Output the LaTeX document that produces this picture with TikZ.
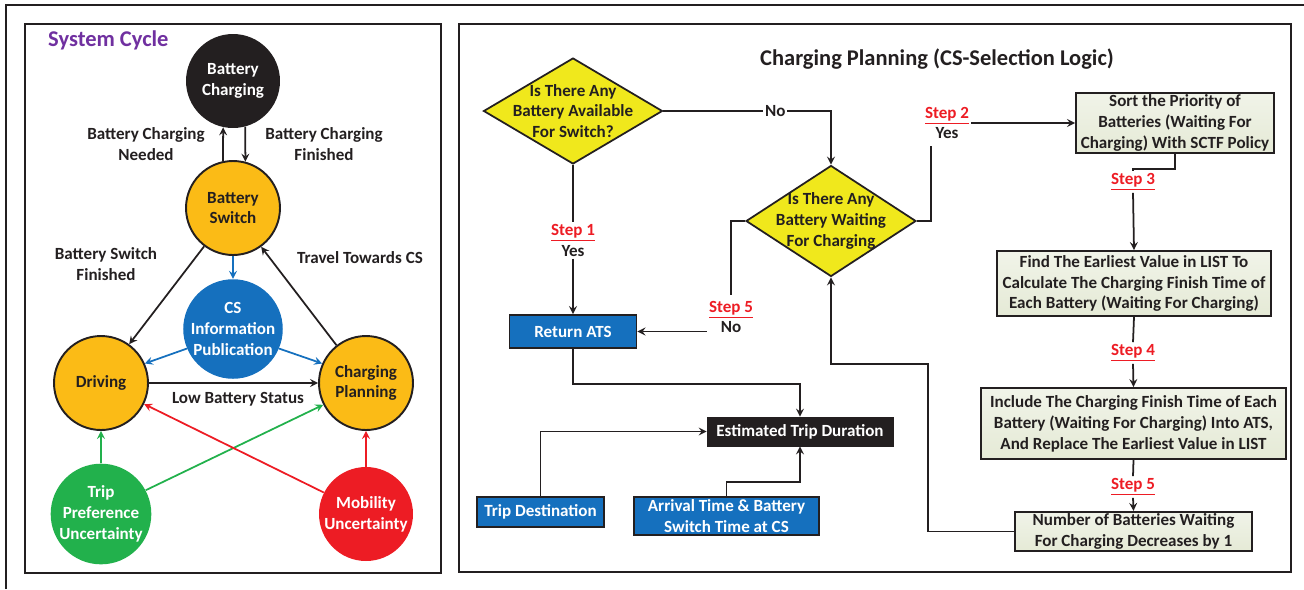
\documentclass[tikz,border=0pt]{standalone}
\usepackage{fontspec}
\setmainfont{Carlito}
\usepackage{tikz}
\usetikzlibrary{calc,shapes.geometric}
\definecolor{amber}{RGB}{251,187,22}
\definecolor{csblue}{RGB}{21,112,190}
\definecolor{ugreen}{RGB}{34,177,76}
\definecolor{ured}{RGB}{237,28,36}
\definecolor{qyellow}{RGB}{240,232,28}
\definecolor{boxgreen}{RGB}{229,234,214}
\definecolor{txt}{RGB}{35,31,32}
\definecolor{steptxt}{RGB}{237,28,36}
\definecolor{titlepurple}{RGB}{112,48,160}

\tikzset{
  state/.style={circle, minimum size=1.88cm, inner sep=0pt, align=center},
  ystate/.style={state, draw=txt, line width=1.1pt, fill=amber},
  query/.style={diamond, draw=txt, line width=1pt, fill=qyellow, inner sep=0pt},
  bluebox/.style={rectangle, draw=txt, line width=1.1pt, fill=csblue, text=white, align=center, inner sep=1pt},
  greybox/.style={rectangle, draw=txt, line width=1.1pt, top color=boxgreen!55!white, bottom color=boxgreen, align=center, inner sep=1pt},
  steplbl/.style={align=center, inner sep=1pt},
  flow/.style={draw=txt, line width=1pt},
  bigtitle/.style={font=\bfseries\fontsize{12.8}{15}\selectfont}
}
\newcommand{\stepno}[1]{{\color{steptxt}\underline{Step #1}}}

\begin{document}
\begin{tikzpicture}[>=stealth, x=0.02cm, y=-0.02cm,
  every node/.style={font=\bfseries\fontsize{9.7}{11.9}\selectfont, text=txt}]

\useasboundingbox (0,0) rectangle (1304,589);

%the frames
\draw[txt, line width=1.3pt] (6,589) -- (6,5) -- (1304,5);
\draw[txt, line width=1.2pt] (25,24) rectangle (441,573);
\draw[txt, line width=1.2pt] (459,24) rectangle (1291,572);

%the system cycle
\node[bigtitle, text=titlepurple, anchor=west] (sys) at (42,40) {System Cycle};
\node[state, fill=txt, text=white] (bc) at (233,81) {Battery\\Charging};
\node[ystate] (bs) at (233,208) {Battery\\Switch};
\node[state, fill=csblue, text=white] (csi) at (233,329) {CS\\Information\\Publication};
\node[ystate] (drv) at (101,383) {Driving};
\node[ystate] (cp) at (366,383) {Charging\\Planning};
\node[state, fill=ugreen, text=white] (tpu) at (101,514) {Trip\\Preference\\Uncertainty};
\node[state, fill=ured, text=white] (mu) at (366,514) {Mobility\\Uncertainty};

\draw[flow, ->] (bs.102) -- (bc.258);
\draw[flow, ->] (bc.285) -- (bs.75);
\draw[flow, ->] (bs.233) -- (drv.54);
\draw[flow, ->] (cp.128) -- (bs.306);
\draw[flow, ->] (drv.east) -- (cp.west);
\draw[flow, ->, draw=csblue] (bs.south) -- (csi.north);
\draw[flow, ->, draw=csblue] (csi.203) -- (drv.24);
\draw[flow, ->, draw=csblue] (csi.337) -- (cp.156);
\draw[flow, ->, draw=ugreen] (tpu.north) -- (drv.south);
\draw[flow, ->, draw=ugreen] (tpu.28) -- (cp.207);
\draw[flow, ->, draw=ured] (mu.153) -- (drv.334);
\draw[flow, ->, draw=ured] (mu.north) -- (cp.south);

\node[align=center] (lneed) at (146,144) {Battery Charging\\Needed};
\node[align=center] (lfin) at (324,144) {Battery Charging\\Finished};
\node[align=center] (lswf) at (106,264) {Battery Switch\\Finished};
\node (ltrv) at (360,258) {Travel Towards CS};
\node (llow) at (238,399) {Low Battery Status};

%the cs-selection logic
\node[bigtitle] (cpt) at (937,59) {Charging Planning (CS-Selection Logic)};
\node[query, minimum width=3.58cm, minimum height=2.12cm,
  label={[align=center]center:Is There Any\\Battery Available\\For Switch?}] (d1) at (573,111) {};
\node[query, minimum width=3.4cm, minimum height=2.22cm,
  label={[align=center]center:Is There Any\\Battery Waiting\\For Charging}] (d2) at (831,221) {};

\node[bluebox, minimum width=2.54cm, minimum height=0.66cm] (ret) at (573,331.5) {Return ATS};
\node[rectangle, fill=txt, draw=txt, text=white, minimum width=3.72cm, minimum height=0.58cm, inner sep=1pt] (etd) at (800,431.5) {Estimated Trip Duration};
\node[bluebox, minimum width=2.54cm, minimum height=0.6cm] (tdest) at (540.5,512) {Trip Destination};
\node[bluebox, minimum width=3.7cm, minimum height=0.76cm] (arr) at (726.5,516) {Arrival Time \& Battery\\Switch Time at CS};

\node[greybox, minimum width=3.96cm, minimum height=1.2cm] (sort) at (1175,123) {Sort the Priority of\\Batteries (Waiting For\\Charging) With SCTF Policy};
\node[greybox, minimum width=5.48cm, minimum height=1.3cm] (find) at (1134,283.5) {Find The Earliest Value in LIST To\\Calculate The Charging Finish Time of\\Each Battery (Waiting For Charging)};
\node[greybox, minimum width=6.1cm, minimum height=1.42cm] (incl) at (1133.5,423.5) {Include The Charging Finish Time of Each\\Battery (Waiting For Charging) Into ATS,\\And Replace The Earliest Value in LIST};
\node[greybox, minimum width=4.74cm, minimum height=0.78cm] (num) at (1133.5,531.5) {Number of Batteries Waiting\\For Charging Decreases by 1};

\node[steplbl] (s1) at (573,240.5) {\stepno{1}\\Yes};
\node[steplbl] (s2) at (947,123) {\stepno{2}\\Yes};
\node[steplbl] (s3) at (1133,182) {\stepno{3}};
\node[steplbl] (s4) at (1133,353) {\stepno{4}};
\node[steplbl] (s5) at (731,317) {\stepno{5}\\No};
\node[steplbl] (s5b) at (1133,487) {\stepno{5}};

\coordinate (c2) at (931,146);
\coordinate (c5) at (731,295);
\coordinate (c6) at (928,364);

\draw[flow, ->] (d1.east) -| node[pos=0.334, fill=white, inner sep=1pt] (no1) {No} (d2.north);
\draw[flow] (d1.south) -- (s1.north);
\draw[flow, ->] (s1.south) -- (ret.north);
\draw[flow] (d2.east) -| (c2);
\draw[flow, ->] (s2.east) -- (sort.west);
\draw[flow] (d2.west) -| (c5);
\draw[flow, ->] (s5.west |- ret.east) -- (ret.east);
\draw[flow] (sort.south) -- ++(0,15) -| (s3.north);
\draw[flow, ->] (s3.south) -- (find.north);
\draw[flow] (find.south) -- (s4.north);
\draw[flow, ->] (s4.south) -- (incl.north);
\draw[flow] (incl.south) -- (s5b.north);
\draw[flow, ->] (s5b.south) -- (num.north);
\draw[flow, ->] (num.west) -| (c6) -| (d2.south);
\draw[flow, ->] (ret.south) -- ++(0,35) -| (etd.north);
\draw[flow, ->] (tdest.north) |- (etd.west);
\draw[flow, ->] (arr.north) -- ++(0,-14) -| (etd.south);
\end{tikzpicture}
\end{document}
